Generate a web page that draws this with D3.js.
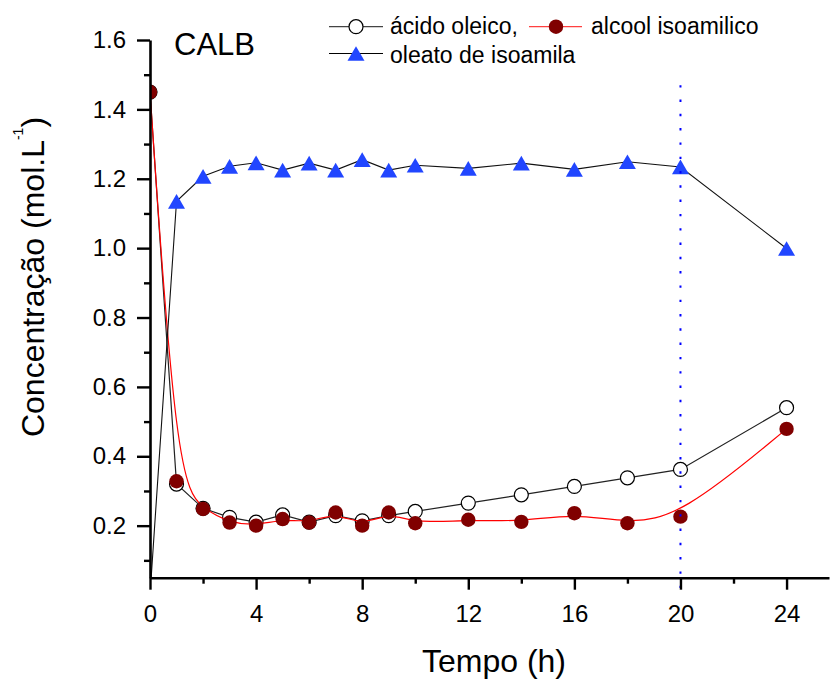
<!DOCTYPE html>
<html>
<head>
<meta charset="utf-8">
<script src="https://cdn.jsdelivr.net/npm/d3@7.9.0/dist/d3.min.js"></script>
<style>
  body { margin: 0; background: #fff; }
  svg { display: block; font-family: "Liberation Sans", Arial, sans-serif; }
</style>
</head>
<body>
<script>
// Tempo (h) e concentrações (mol/L)
const tempo = [0, 1, 2, 3, 4, 5, 6, 7, 8, 9, 10, 12, 14, 16, 18, 20, 24];
const acidoOleico = [1.45, 0.32, 0.25, 0.224, 0.21, 0.231, 0.21, 0.229, 0.214, 0.229, 0.241, 0.265, 0.289, 0.313, 0.338, 0.362, 0.54];
const alcoolIsoamilico = [1.45, 0.328, 0.248, 0.209, 0.2, 0.219, 0.209, 0.238, 0.2, 0.238, 0.207, 0.217, 0.211, 0.236, 0.207, 0.226, 0.479];
const oleatoIsoamila = [0, 1.135, 1.207, 1.236, 1.246, 1.225, 1.245, 1.225, 1.255, 1.225, 1.239, 1.23, 1.245, 1.227, 1.249, 1.234, 0.999];

const xMajorTicks = [0, 4, 8, 12, 16, 20, 24];
const xMinorTicks = [2, 6, 10, 14, 18, 22];
const yMajorTicks = [0.2, 0.4, 0.6, 0.8, 1.0, 1.2, 1.4, 1.6];
const yMinorTicks = [0.1, 0.3, 0.5, 0.7, 0.9, 1.1, 1.3, 1.5];

const refLineX = 20;
const refLineY = [0.02, 1.48];

const legendLabels = ["ácido oleico,", "alcool isoamilico", "oleato de isoamila"];

const width = 830, height = 679;
const x = d3.scaleLinear().domain([0, 25.6]).range([150, 829]);
const y = d3.scaleLinear().domain([0.05, 1.6]).range([577.7, 40]);

const svg = d3.select("body").append("svg").attr("width", width).attr("height", height);

svg.append("clipPath").attr("id", "plot-clip")
  .append("rect").attr("x", 150).attr("y", 0).attr("width", 680).attr("height", 577.7);

const plot = svg.append("g").attr("clip-path", "url(#plot-clip)");

const rows = tempo.map((t, i) => ({ t, ac: acidoOleico[i], al: alcoolIsoamilico[i], ol: oleatoIsoamila[i] }));

// triangle centred on its bounding box, like Origin's symbols
const boxTriangle = {
  draw(context, size) {
    const s = Math.sqrt(size * 4 / Math.sqrt(3));
    const h = s * Math.sqrt(3) / 2;
    context.moveTo(0, -h / 2);
    context.lineTo(s / 2, h / 2);
    context.lineTo(-s / 2, h / 2);
    context.closePath();
  }
};
const tri = d3.symbol().type(boxTriangle).size(125);

// ácido oleico
plot.append("path").datum(rows)
  .attr("d", d3.line().x(d => x(d.t)).y(d => y(d.ac)))
  .attr("fill", "none").attr("stroke", "#222").attr("stroke-width", 1.2);
plot.selectAll("circle.ac").data(rows).enter().append("circle").attr("class", "ac")
  .attr("cx", d => x(d.t)).attr("cy", d => y(d.ac)).attr("r", 7)
  .attr("fill", "#fff").attr("stroke", "#000").attr("stroke-width", 1.2);

// alcool isoamilico
plot.append("path").datum(rows)
  .attr("d", d3.line().curve(d3.curveBasis).x(d => x(d.t)).y(d => y(d.al)))
  .attr("fill", "none").attr("stroke", "#ff0000").attr("stroke-width", 1.2);
plot.selectAll("circle.al").data(rows).enter().append("circle").attr("class", "al")
  .attr("cx", d => x(d.t)).attr("cy", d => y(d.al)).attr("r", 7.2)
  .attr("fill", "#800000");

// oleato de isoamila
plot.append("path").datum(rows)
  .attr("d", d3.line().x(d => x(d.t)).y(d => y(d.ol)))
  .attr("fill", "none").attr("stroke", "#111").attr("stroke-width", 1.1);
plot.selectAll("path.ol").data(rows).enter().append("path").attr("class", "ol")
  .attr("transform", d => `translate(${x(d.t)},${y(d.ol)})`)
  .attr("d", tri).attr("fill", "#2146ff");

// linha vertical pontilhada
svg.append("line")
  .attr("x1", x(refLineX)).attr("x2", x(refLineX))
  .attr("y1", y(refLineY[0])).attr("y2", y(refLineY[1]))
  .attr("stroke", "#0000ff").attr("stroke-width", 2)
  .attr("stroke-dasharray", "2.4 11.9");

// eixos
const axisStyle = g => {
  g.select(".domain").attr("stroke", "#000").attr("stroke-width", 2.6);
  g.selectAll(".tick line").attr("stroke", "#000").attr("stroke-width", 2.4);
  g.selectAll(".tick text").attr("fill", "#000").style("font-size", "24px")
    .style("font-family", "'Liberation Sans', Arial, sans-serif");
};

svg.append("g").attr("transform", "translate(0,577.7)")
  .call(d3.axisBottom(x).tickValues(xMinorTicks).tickSize(6).tickFormat("").tickSizeOuter(0))
  .call(axisStyle).call(g => g.select(".domain").remove());
svg.append("g").attr("transform", "translate(150,0)")
  .call(d3.axisLeft(y).tickValues(yMinorTicks).tickSize(6).tickFormat("").tickSizeOuter(0))
  .call(axisStyle).call(g => g.select(".domain").remove());

svg.append("g").attr("transform", "translate(0,577.7)")
  .call(d3.axisBottom(x).tickValues(xMajorTicks).tickSize(12).tickPadding(15).tickSizeOuter(0).tickFormat(d3.format("d")))
  .call(axisStyle);
svg.append("g").attr("transform", "translate(150,0)")
  .call(d3.axisLeft(y).tickValues(yMajorTicks).tickSize(13).tickPadding(11).tickSizeOuter(0).tickFormat(d3.format(".1f")))
  .call(axisStyle);

// títulos
svg.append("text").attr("x", 494).attr("y", 671.5).attr("text-anchor", "middle")
  .style("font-size", "32px").text("Tempo (h)");

const yTitle = svg.append("text").attr("transform", "translate(44,277) rotate(-90)")
  .attr("text-anchor", "middle").style("font-size", "32px");
yTitle.append("tspan").text("Concentração (mol.L");
yTitle.append("tspan").attr("dy", -21).style("font-size", "14px").text("-1");
yTitle.append("tspan").attr("dy", 21).text(")");

svg.append("text").attr("x", 174).attr("y", 55).style("font-size", "31px").text("CALB");

// legenda
const leg = svg.append("g").style("font-size", "23px");
// item 1
leg.append("line").attr("x1", 329).attr("x2", 383).attr("y1", 26.7).attr("y2", 26.7)
  .attr("stroke", "#444").attr("stroke-width", 1.2);
leg.append("circle").attr("cx", 356).attr("cy", 26.7).attr("r", 7)
  .attr("fill", "#fff").attr("stroke", "#000").attr("stroke-width", 1.2);
leg.append("text").attr("x", 390).attr("y", 34.3).text(legendLabels[0]);
// item 2
leg.append("line").attr("x1", 529).attr("x2", 582).attr("y1", 26.7).attr("y2", 26.7)
  .attr("stroke", "#ff4040").attr("stroke-width", 1.2);
leg.append("circle").attr("cx", 556).attr("cy", 26.7).attr("r", 7.2).attr("fill", "#800000");
leg.append("text").attr("x", 591).attr("y", 34.3).text(legendLabels[1]);
// item 3
leg.append("line").attr("x1", 329).attr("x2", 383).attr("y1", 53.5).attr("y2", 53.5)
  .attr("stroke", "#000").attr("stroke-width", 1.2);
leg.append("path").attr("transform", "translate(356,53.5)").attr("d", tri).attr("fill", "#2146ff");
leg.append("text").attr("x", 390).attr("y", 63.3).text(legendLabels[2]);
</script>
</body>
</html>
